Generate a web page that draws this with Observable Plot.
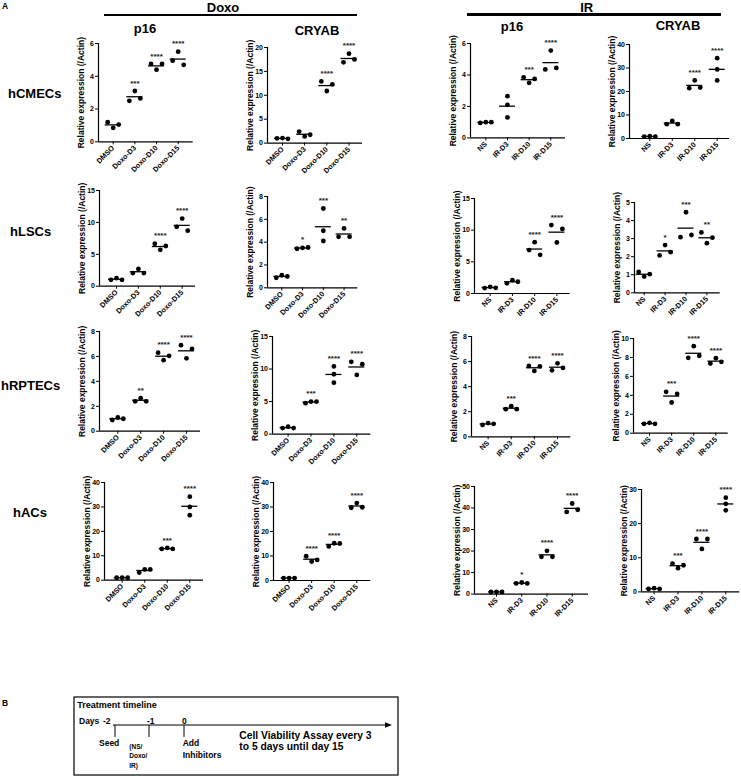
<!DOCTYPE html>
<html><head><meta charset="utf-8">
<script src="https://cdn.jsdelivr.net/npm/d3@7"></script>
<script src="https://cdn.jsdelivr.net/npm/@observablehq/plot@0.6"></script>
<style>
body{margin:0;background:#fff;}
#fig{position:relative;width:741px;height:776px;font-family:"Liberation Sans",Arial,sans-serif;color:#000;overflow:hidden;background:#fff}
.t{position:absolute;white-space:nowrap;font-weight:bold;line-height:1}
</style></head><body><div id="fig"></div>
<script>
// ---------------- DATA ----------------
const doxoGroups = ["DMSO","Doxo-D3","Doxo-D10","Doxo-D15"];
const irGroups = ["NS","IR-D3","IR-D10","IR-D15"];
const cellLines = ["hCMECs","hLSCs","hRPTECs","hACs"];
const treatments = ["Doxo","IR"];
const genes = ["p16","CRYAB"];
const yLabel = "Relative expression (/Actin)";

// replicate values per group [group][replicate]
const hCMECs_Doxo_p16   = [[1.2,0.85,1.05],[2.5,3.1,2.65],[4.75,4.4,4.75],[5.5,4.95,4.7]];
const hCMECs_Doxo_CRYAB = [[1.0,1.05,0.9],[2.4,1.4,1.75],[12.9,10.9,12.3],[16.9,18.7,17.5]];
const hCMECs_IR_p16     = [[0.95,1.0,1.0],[2.65,2.1,1.3],[3.85,3.5,3.75],[4.35,5.55,4.45]];
const hCMECs_IR_CRYAB   = [[0.8,1.0,0.8],[6.1,7.5,6.1],[21.4,24.7,21.7],[34.2,29.4,24.7]];
const hLSCs_Doxo_p16    = [[1.0,1.25,1.0],[2.05,2.7,2.05],[6.65,5.7,6.3],[10.6,9.3,8.7]];
const hLSCs_Doxo_CRYAB  = [[0.88,1.1,1.0],[3.42,3.5,3.53],[6.95,5.0,4.1],[4.47,5.2,4.47]];
const hLSCs_IR_p16      = [[0.85,1.05,0.9],[1.6,2.1,1.85],[8.1,6.85,6.1],[10.8,10.2,8.05]];
const hLSCs_IR_CRYAB    = [[1.15,0.9,1.03],[2.07,2.64,2.25],[3.08,4.46,3.2],[3.34,2.75,3.05]];
const hRPTECs_Doxo_p16  = [[0.9,1.1,1.0],[2.4,2.65,2.4],[6.3,5.7,6.05],[6.9,5.85,6.6]];
const hRPTECs_Doxo_CRYAB= [[0.92,1.13,0.92],[4.76,5.0,5.0],[10.4,9.2,7.9],[11.1,9.1,10.75]];
const hRPTECs_IR_p16    = [[0.95,1.09,1.03],[2.2,2.44,2.2],[5.65,5.25,5.62],[5.3,5.86,5.49]];
const hRPTECs_IR_CRYAB  = [[0.99,1.09,0.99],[4.37,3.24,4.15],[7.96,9.19,8.17],[7.36,7.92,7.54]];
const hACs_Doxo_p16     = [[1.0,1.0,1.0],[3.1,4.4,4.4],[12.8,13.2,12.8],[34.2,30.0,26.6]];
const hACs_Doxo_CRYAB   = [[1.0,1.0,1.0],[9.9,7.75,8.4],[13.9,15.2,15.1],[29.7,31.6,29.9]];
const hACs_IR_p16       = [[1.0,1.0,1.0],[4.95,5.4,4.95],[17.3,20.1,17.3],[38.2,42.1,39.2]];
const hACs_IR_CRYAB     = [[0.88,1.08,0.88],[8.3,6.94,7.8],[15.5,12.6,15.5],[27.6,25.8,23.9]];

// significance labels per group
const sig_hCMECs_Doxo_p16   = ["","***","****","****"];
const sig_hCMECs_Doxo_CRYAB = ["","","****","****"];
const sig_hCMECs_IR_p16     = ["","","***","****"];
const sig_hCMECs_IR_CRYAB   = ["","","****","****"];
const sig_hLSCs_Doxo_p16    = ["","","****","****"];
const sig_hLSCs_Doxo_CRYAB  = ["","*","***","**"];
const sig_hLSCs_IR_p16      = ["","","****","****"];
const sig_hLSCs_IR_CRYAB    = ["","*","***","**"];
const sig_hRPTECs_Doxo_p16  = ["","**","****","****"];
const sig_hRPTECs_Doxo_CRYAB= ["","***","****","****"];
const sig_hRPTECs_IR_p16    = ["","***","****","****"];
const sig_hRPTECs_IR_CRYAB  = ["","***","****","****"];
const sig_hACs_Doxo_p16     = ["","","***","****"];
const sig_hACs_Doxo_CRYAB   = ["","****","****","****"];
const sig_hACs_IR_p16       = ["","*","****","****"];
const sig_hACs_IR_CRYAB     = ["","***","****","****"];

// y tick values
const ticks_hCMECs_Doxo_p16   = [0,2,4,6];
const ticks_hCMECs_Doxo_CRYAB = [0,5,10,15,20];
const ticks_hCMECs_IR_p16     = [0,2,4,6];
const ticks_hCMECs_IR_CRYAB   = [0,10,20,30,40];
const ticks_hLSCs_Doxo_p16    = [0,5,10,15];
const ticks_hLSCs_Doxo_CRYAB  = [0,2,4,6,8];
const ticks_hLSCs_IR_p16      = [0,5,10,15];
const ticks_hLSCs_IR_CRYAB    = [0,1,2,3,4,5];
const ticks_hRPTECs_Doxo_p16  = [0,2,4,6,8];
const ticks_hRPTECs_Doxo_CRYAB= [0,5,10,15];
const ticks_hRPTECs_IR_p16    = [0,2,4,6,8];
const ticks_hRPTECs_IR_CRYAB  = [0,2,4,6,8,10];
const ticks_hACs_Doxo_p16     = [0,10,20,30,40];
const ticks_hACs_Doxo_CRYAB   = [0,10,20,30,40];
const ticks_hACs_IR_p16       = [0,10,20,30,40,50];
const ticks_hACs_IR_CRYAB     = [0,10,20,30];

// timeline (panel B) texts
const timelineTitle = "Treatment timeline";
const timelineDays = ["-2","-1","0"];
const timelineEvents = [["Seed"],["(NS/","Doxo/","IR)"],["Add","Inhibitors"]];
const timelineNote = ["Cell Viability Assay every 3","to 5 days until day 15"];

// ---------------- LAYOUT ----------------
const FONT = '"Liberation Sans", Arial, sans-serif';
const panelData = [
  [hCMECs_Doxo_p16, sig_hCMECs_Doxo_p16, ticks_hCMECs_Doxo_p16, 0],
  [hCMECs_Doxo_CRYAB, sig_hCMECs_Doxo_CRYAB, ticks_hCMECs_Doxo_CRYAB, 0],
  [hCMECs_IR_p16, sig_hCMECs_IR_p16, ticks_hCMECs_IR_p16, 1],
  [hCMECs_IR_CRYAB, sig_hCMECs_IR_CRYAB, ticks_hCMECs_IR_CRYAB, 1],
  [hLSCs_Doxo_p16, sig_hLSCs_Doxo_p16, ticks_hLSCs_Doxo_p16, 0],
  [hLSCs_Doxo_CRYAB, sig_hLSCs_Doxo_CRYAB, ticks_hLSCs_Doxo_CRYAB, 0],
  [hLSCs_IR_p16, sig_hLSCs_IR_p16, ticks_hLSCs_IR_p16, 1],
  [hLSCs_IR_CRYAB, sig_hLSCs_IR_CRYAB, ticks_hLSCs_IR_CRYAB, 1],
  [hRPTECs_Doxo_p16, sig_hRPTECs_Doxo_p16, ticks_hRPTECs_Doxo_p16, 0],
  [hRPTECs_Doxo_CRYAB, sig_hRPTECs_Doxo_CRYAB, ticks_hRPTECs_Doxo_CRYAB, 0],
  [hRPTECs_IR_p16, sig_hRPTECs_IR_p16, ticks_hRPTECs_IR_p16, 1],
  [hRPTECs_IR_CRYAB, sig_hRPTECs_IR_CRYAB, ticks_hRPTECs_IR_CRYAB, 1],
  [hACs_Doxo_p16, sig_hACs_Doxo_p16, ticks_hACs_Doxo_p16, 0],
  [hACs_Doxo_CRYAB, sig_hACs_Doxo_CRYAB, ticks_hACs_Doxo_CRYAB, 0],
  [hACs_IR_p16, sig_hACs_IR_p16, ticks_hACs_IR_p16, 1],
  [hACs_IR_CRYAB, sig_hACs_IR_CRYAB, ticks_hACs_IR_CRYAB, 1]
];
// [axisX, topTickY, zeroY, firstCatX, lastCatX, axisEndX]
const frames = [
  [98.3,43,141.3,113,178,193],
  [267,46.7,142.3,282,348.5,362],
  [470,43.3,137.7,485.3,550.3,565],
  [629,44.3,138.3,649.3,716.7,729],
  [99,190,285.7,116,181.7,195],
  [266.7,195.7,287,281,343.3,357],
  [474.3,197.7,292.7,490,556.7,570],
  [634.3,202,292.3,644,706.7,720],
  [99,331,430.7,117.3,186,200],
  [271.7,335.7,433.3,287.3,356,370],
  [470.7,336,436.3,487.3,556.7,570],
  [633.3,338.3,433,649.3,715.7,728],
  [104,482.3,580,121.7,189.3,203],
  [272.7,481.7,579.7,288.3,356,370],
  [474,485.7,593.3,496,571.7,588],
  [640.7,489.3,591.7,653.3,725,739]
];

const fig = document.getElementById("fig");

// horizontal spreading of overlapping points (scatter-dot style)
function spread(px) {
  const thr = 6;
  const close = px.map((p, i) => px.some((q, j) => j !== i && Math.abs(p - q) < thr));
  const n = close.filter(Boolean).length;
  if (n === 3) return [-1, 0, 1];
  if (n === 2) { let first = true; return close.map(c => { if (!c) return 0; if (first) { first = false; return -1; } return 1; }); }
  return [0, 0, 0];
}

function drawPanel([values, stars, ticks, t], [ax, ty, by, x0, x3, axEnd]) {
  const mL = 44, mR = 4, mT = 16, mB = 52;
  const step = (x3 - x0) / 3;
  const xa = -(x0 - ax) / step, xb = 3 + (axEnd - x3) / step;
  const ymax = ticks[ticks.length - 1];
  const ppu = (by - ty) / ymax;
  const groups = t === 0 ? doxoGroups : irGroups;
  const pts = [], means = [], sig = [];
  values.forEach((vals, i) => {
    const off = spread(vals.map(v => v * ppu));
    vals.forEach((v, j) => pts.push({x: i + off[j] * 5.5 / step, y: v}));
    means.push({i, m: d3.mean(vals)});
    if (stars[i]) sig.push({i, y: d3.max(vals), s: stars[i]});
  });
  const plot = Plot.plot({
    width: axEnd - ax + mL + mR, height: by - ty + mT + mB,
    marginLeft: mL, marginRight: mR, marginTop: mT, marginBottom: mB,
    x: {domain: [xa, xb]}, y: {domain: [0, ymax]},
    style: {fontFamily: FONT, background: "transparent", overflow: "visible", color: "#000"},
    marks: [
      Plot.axisY({ticks, tickFormat: d => String(d), tickSize: 3, tickPadding: 1.5, fontSize: 7, fontWeight: "bold", label: null}),
      Plot.axisY({ticks: [], tickSize: 0, label: yLabel, labelAnchor: "center", labelArrow: "none", labelOffset: 21, fontSize: 8.5, fontWeight: "bold"}),
      Plot.axisX({ticks: [0,1,2,3], tickFormat: i => groups[i], tickRotate: -45, tickSize: 3, tickPadding: 2, fontSize: 7.3, fontWeight: "bold", label: null}),
      Plot.ruleX([xa], {y1: 0, y2: ymax, strokeWidth: 1.2}),
      Plot.ruleY([0], {strokeWidth: 1.2}),
      Plot.ruleY(means, {x1: d => d.i - 8 / step, x2: d => d.i + 8 / step, y: "m", strokeWidth: 1.3}),
      Plot.dot(pts, {x: "x", y: "y", r: 2.4, fill: "#000"}),
      Plot.text(sig, {x: "i", y: "y", text: "s", dy: -8, fontSize: 8, fontWeight: "bold", fill: "#222"})
    ]
  });
  plot.style.position = "absolute";
  plot.style.left = (ax - mL) + "px";
  plot.style.top = (ty - mT) + "px";
  fig.appendChild(plot);
}

function txt(s, x, cy, fs, center) {
  const d = document.createElement("div");
  d.className = "t";
  d.textContent = s;
  d.style.fontSize = fs + "px";
  d.style.left = x + "px";
  d.style.top = (cy - fs * 0.49) + "px";
  if (center) d.style.transform = "translateX(-50%)";
  fig.appendChild(d);
}
function bar(x1, x2, y, h) {
  const d = document.createElement("div");
  d.style.cssText = `position:absolute;left:${x1}px;top:${y}px;width:${x2 - x1}px;height:${h}px;background:#000`;
  fig.appendChild(d);
}

// headings
txt("A", 2, 6.5, 8.5);
txt(treatments[0], 223, 7, 13, true);
bar(104, 357, 13.5, 2.8);
txt(treatments[1], 586.7, 7, 13, true);
bar(466.7, 720.7, 13, 2.8);
txt(genes[0], 145, 28.5, 13, true);
txt(genes[1], 317, 30, 13, true);
txt(genes[0], 512, 26.7, 13, true);
txt(genes[1], 678, 25.7, 13, true);
txt(cellLines[0], 8, 93, 13);
txt(cellLines[1], 10, 231.7, 13);
txt(cellLines[2], 1, 385, 13);
txt(cellLines[3], 13, 512.5, 13);

panelData.forEach((p, k) => drawPanel(p, frames[k]));

// panel B
txt("B", 2, 703, 8.5);
const svgNS = "http://www.w3.org/2000/svg";
const svg = document.createElementNS(svgNS, "svg");
svg.setAttribute("width", 741); svg.setAttribute("height", 776);
svg.style.cssText = "position:absolute;left:0;top:0;overflow:visible";
svg.innerHTML = `
<rect x="74" y="697" width="324" height="78" fill="none" stroke="#000" stroke-width="1.2"/>
<line x1="113" y1="725" x2="386" y2="725" stroke="#000" stroke-width="1"/>
<polygon points="392,725 385,722.3 385,727.7" fill="#000"/>
<line x1="115" y1="725" x2="115" y2="737" stroke="#000" stroke-width="1"/>
<line x1="149" y1="725" x2="149" y2="737" stroke="#000" stroke-width="1"/>
<line x1="184" y1="725" x2="184" y2="737" stroke="#000" stroke-width="1"/>`;
fig.appendChild(svg);
txt(timelineTitle, 77.3, 705, 9);
txt("Days", 79, 721.5, 8.5);
txt(timelineDays[0], 103, 721.5, 8.5);
txt(timelineDays[1], 147, 721.5, 8.5);
txt(timelineDays[2], 182, 721.5, 8.5);
txt(timelineEvents[0][0], 99, 743, 8.5);
timelineEvents[1].forEach((s, i) => txt(s, 129.3, 747 + i * 9.5, 6.5));
txt(timelineEvents[2][0], 182.7, 743, 8.5);
txt(timelineEvents[2][1], 182.7, 755, 8.5);
txt(timelineNote[0], 239.3, 736.5, 10.3);
txt(timelineNote[1], 239.3, 747.5, 10.3);
</script></body></html>
